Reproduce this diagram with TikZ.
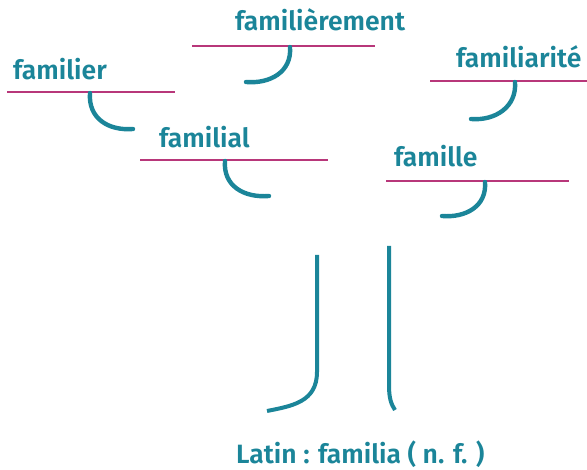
\documentclass[tikz,border=0pt]{standalone}
\usepackage{fontspec}
\setmainfont{Fira Sans SemiBold}
\definecolor{teal1}{HTML}{1B8599}
\definecolor{mag1}{HTML}{B8377A}
\begin{document}
\begin{tikzpicture}[x=1pt,y=-1pt,
  word/.style={anchor=base west,inner sep=0pt,text=teal1,font=\fontsize{26.5}{28}\selectfont},
  bar/.style={draw=mag1,line width=2.4pt},
  hook/.style={draw=teal1,line width=4.4pt,line cap=round},
  trunk/.style={draw=teal1,line width=4pt}]
\useasboundingbox (0,0) rectangle (587,470);
% words
\node[word] (w1) at (13,80) {familier};
\node[word] (w2) at (235,31) {familièrement};
\node[word] (w3) at (456,68) {familiarité};
\node[word] (w4) at (159,148) {familial};
\node[word] (w5) at (394,167) {famille};
\node[word] (lat) at (236,464) {Latin : familia ( n. f. )};
% bars
\coordinate (b1a) at (7,92);   \coordinate (b1b) at (175,92);
\coordinate (b2a) at (192,46); \coordinate (b2b) at (375,46);
\coordinate (b3a) at (430,81); \coordinate (b3b) at (587,81);
\coordinate (b4a) at (140,160);\coordinate (b4b) at (328,160);
\coordinate (b5a) at (386,181);\coordinate (b5b) at (569,181);
\draw[bar] (b1a) -- (b1b);
\draw[bar] (b2a) -- (b2b);
\draw[bar] (b3a) -- (b3b);
\draw[bar] (b4a) -- (b4b);
\draw[bar] (b5a) -- (b5b);
% hooks
\coordinate (h1s) at (90,93);  \coordinate (h1e) at (133,129);
\coordinate (h2s) at (290,47); \coordinate (h2e) at (246,82);
\coordinate (h3s) at (515,82); \coordinate (h3e) at (471,119);
\coordinate (h4s) at (225,161);\coordinate (h4e) at (269,196);
\coordinate (h5s) at (485,182);\coordinate (h5e) at (442,216);
\draw[hook] (h1s) .. controls (88,118) and (108,131) .. (h1e);
\draw[hook] (h2s) .. controls (292,72) and (270,84) .. (h2e);
\draw[hook] (h3s) .. controls (517,107) and (495,121) .. (h3e);
\draw[hook] (h4s) .. controls (223,186) and (244,198) .. (h4e);
\draw[hook] (h5s) .. controls (487,206) and (466,218) .. (h5e);
% trunks
\coordinate (t1a) at (317,255); \coordinate (t1m) at (317,372); \coordinate (t1e) at (267,411);
\coordinate (t2a) at (389,246); \coordinate (t2m) at (389,385); \coordinate (t2e) at (395,410);
\draw[trunk] (t1a) -- (t1m) .. controls (317,402) and (292,406) .. (t1e);
\draw[trunk] (t2a) -- (t2m) .. controls (389,398) and (391,404) .. (t2e);
\end{tikzpicture}
\end{document}
